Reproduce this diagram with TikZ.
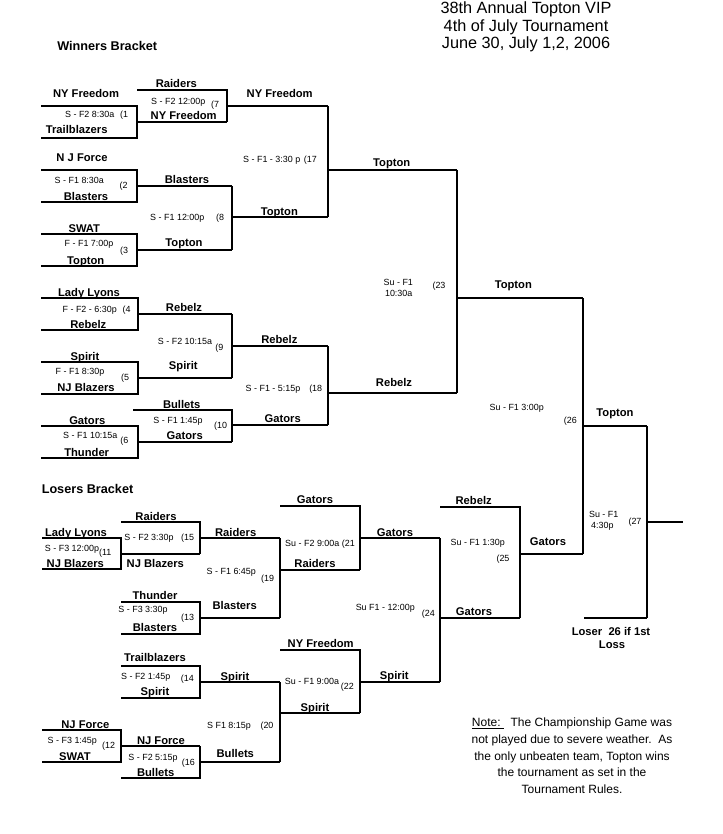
\documentclass[tikz,border=0pt]{standalone}
\usepackage{fontspec}
\setmainfont{Liberation Sans}
\newcommand\tmfont{\bfseries\fontsize{8.4}{10}\selectfont}
\newcommand\scfont{\fontsize{6.7}{8}\selectfont}
\newcommand\hdfont{\bfseries\fontsize{9.5}{11}\selectfont}
\newcommand\ttlfont{\fontsize{12.2}{14}\selectfont}
\newcommand\ntfont{\fontsize{9}{11}\selectfont}
\begin{document}
\begin{tikzpicture}[x=0.75pt,y=-0.75pt,
  tm/.style={font=\tmfont,anchor=base,inner sep=0pt},
  sc/.style={font=\scfont,anchor=base,inner sep=0pt},
  hd/.style={font=\hdfont,anchor=base west,inner sep=0pt},
  ttl/.style={font=\ttlfont,anchor=base,inner sep=0pt},
  nt/.style={font=\ntfont,anchor=base,inner sep=0pt},
  br/.style={draw=black,line width=0.8pt}]
\useasboundingbox[fill=white] (0,0) rectangle (722,834);

% ---- title ----
\node[ttl] (title1) at (526,14) {38th Annual Topton VIP};
\node[ttl] (title2) at (526,31.5) {4th of July Tournament};
\node[ttl] (title3) at (526,48.5) {June 30, July 1,2, 2006};
\node[hd] (wb) at (57,50.5) {Winners Bracket};
\node[hd] (lb) at (41.5,493.5) {Losers Bracket};

% ---- winners bracket lines ----
\draw[br] (41,106)--(137,106)--(137,138)--(41,138);
\draw[br] (137,122)--(227,122);
\draw[br] (137,90)--(227,90)--(227,122);
\draw[br] (227,106)--(328,106);
\draw[br] (41,170)--(137,170)--(137,202)--(41,202);
\draw[br] (137,186)--(232,186);
\draw[br] (41,234)--(137,234)--(137,266)--(41,266);
\draw[br] (137,250)--(232,250);
\draw[br] (232,186)--(232,250);
\draw[br] (232,217)--(328,217);
\draw[br] (328,106)--(328,217);
\draw[br] (328,170)--(457,170);
\draw[br] (41,298)--(138,298)--(138,330)--(41,330);
\draw[br] (138,314)--(232,314);
\draw[br] (41,362)--(138,362)--(138,394)--(41,394);
\draw[br] (138,378)--(232,378);
\draw[br] (232,314)--(232,378);
\draw[br] (232,346)--(328,346);
\draw[br] (41,426)--(138,426)--(138,458)--(41,458);
\draw[br] (138,442)--(232,442);
\draw[br] (133,410)--(232,410)--(232,442);
\draw[br] (232,425)--(328,425);
\draw[br] (328,346)--(328,425);
\draw[br] (328,393)--(457,393);
\draw[br] (457,170)--(457,393);
\draw[br] (457,298)--(583,298);
\draw[br] (583,298)--(583,554);
\draw[br] (583,426)--(647,426);
\draw[br] (647,426)--(647,618);
\draw[br] (647,522)--(683,522);
\draw[br] (584,618)--(647,618);

% ---- losers bracket lines ----
\draw[br] (42,538)--(121,538)--(121,569)--(42,569);
\draw[br] (121,554)--(200,554);
\draw[br] (121,522)--(200,522)--(200,554);
\draw[br] (200,538)--(280,538);
\draw[br] (121,602)--(200,602)--(200,634)--(121,634);
\draw[br] (200,618)--(280,618);
\draw[br] (280,538)--(280,618);
\draw[br] (280,570)--(360,570);
\draw[br] (280,506)--(360,506)--(360,570);
\draw[br] (360,538)--(440,538);
\draw[br] (121,666)--(200,666)--(200,698)--(121,698);
\draw[br] (200,682)--(280,682);
\draw[br] (42,730)--(121,730)--(121,762)--(42,762);
\draw[br] (121,746)--(200,746);
\draw[br] (200,746)--(200,778)--(121,778);
\draw[br] (200,762)--(280,762);
\draw[br] (280,682)--(280,762);
\draw[br] (280,713)--(360,713);
\draw[br] (280,650)--(360,650)--(360,713);
\draw[br] (360,682)--(440,682);
\draw[br] (440,538)--(440,682);
\draw[br] (440,618)--(520,618);
\draw[br] (440,507)--(520,507)--(520,618);
\draw[br] (520,554)--(583,554);

% ---- winners bracket text ----
\node[tm] (a1) at (86,98) {NY Freedom};
\node[sc] (a2) at (89.7,117.7) {S - F2 8:30a};
\node[sc] (a3) at (124,117.7) {(1};
\node[tm] (a4) at (76.7,134) {Trailblazers};
\node[tm] (a5) at (176.3,87.3) {Raiders};
\node[sc] (a6) at (178.3,105) {S - F2 12:00p};
\node[sc] (a7) at (215,107.7) {(7};
\node[tm] (a8) at (183.7,120) {NY Freedom};
\node[tm] (a9) at (279.7,98) {NY Freedom};
\node[sc] (a10) at (271.7,162.7) {S - F1 - 3:30 p};
\node[sc] (a11) at (310.3,162.7) {(17};
\node[tm] (a12) at (82,162) {N J Force};
\node[sc] (a13) at (79.3,183.3) {S - F1 8:30a};
\node[sc] (a14) at (123.7,188.3) {(2};
\node[tm] (a15) at (86,200.7) {Blasters};
\node[tm] (a16) at (187,183.3) {Blasters};
\node[sc] (a17) at (177.3,220.7) {S - F1 12:00p};
\node[sc] (a18) at (220,220.7) {(8};
\node[tm] (a19) at (279.3,215.5) {Topton};
\node[tm] (a20) at (84.3,232.7) {SWAT};
\node[sc] (a21) at (89,246.7) {F - F1 7:00p};
\node[sc] (a22) at (124,253.3) {(3};
\node[tm] (a23) at (85.7,264.3) {Topton};
\node[tm] (a24) at (184,246.7) {Topton};
\node[tm] (a25) at (89,296.7) {Lady Lyons};
\node[sc] (a26) at (89.7,312.7) {F - F2 - 6:30p};
\node[sc] (a27) at (126.7,312.7) {(4};
\node[tm] (a28) at (88.3,328.3) {Rebelz};
\node[tm] (a29) at (184,311.7) {Rebelz};
\node[sc] (a30) at (185,344) {S - F2 10:15a};
\node[sc] (a31) at (219.3,350) {(9};
\node[tm] (a32) at (279.3,343.3) {Rebelz};
\node[tm] (a33) at (85,360) {Spirit};
\node[sc] (a34) at (80,374) {F - F1 8:30p};
\node[sc] (a35) at (125,380) {(5};
\node[tm] (a36) at (86,391.7) {NJ Blazers};
\node[tm] (a37) at (183.3,369.3) {Spirit};
\node[sc] (a38) at (273,391.7) {S - F1 - 5:15p};
\node[sc] (a39) at (315.7,391.7) {(18};
\node[tm] (a40) at (181.7,408.3) {Bullets};
\node[sc] (a41) at (178,423.3) {S - F1 1:45p};
\node[sc] (a42) at (220.7,428.3) {(10};
\node[tm] (a43) at (87.3,424) {Gators};
\node[tm] (a44) at (184.7,439.3) {Gators};
\node[tm] (a45) at (282.7,422.7) {Gators};
\node[sc] (a46) at (90.3,438.3) {S - F1 10:15a};
\node[sc] (a47) at (124.3,443.3) {(6};
\node[tm] (a48) at (86.7,456) {Thunder};
\node[tm] (a49) at (391.7,166.7) {Topton};
\node[sc] (a50) at (398.3,285) {Su - F1};
\node[sc] (a51) at (398.7,296) {10:30a};
\node[sc] (a52) at (439,288.3) {(23};
\node[tm] (a53) at (394,386) {Rebelz};
\node[tm] (a54) at (513.3,288.3) {Topton};
\node[sc] (a55) at (516.7,410) {Su - F1 3:00p};
\node[sc] (a56) at (570.3,423.3) {(26};
\node[tm] (a57) at (615,416) {Topton};
\node[sc] (a58) at (603.7,517.3) {Su - F1};
\node[sc] (a59) at (602.3,528.8) {4:30p};
\node[sc] (a60) at (635,524) {(27};
\node[tm] (a61) at (548,545.7) {Gators};
\node[tm] (a62) at (611,635) {Loser\ \ 26 if 1st};
\node[tm] (a63) at (612,648.3) {Loss};

% ---- losers bracket text ----
\node[tm] (b1) at (156,520) {Raiders};
\node[tm] (b2) at (76,536) {Lady Lyons};
\node[sc] (b3) at (72,551.7) {S - F3 12:00p};
\node[sc] (b4) at (105.3,555) {(11};
\node[tm] (b5) at (75.3,567.3) {NJ Blazers};
\node[sc] (b6) at (149,540) {S - F2 3:30p};
\node[sc] (b7) at (187.7,540) {(15};
\node[tm] (b8) at (155.3,567.3) {NJ Blazers};
\node[tm] (b9) at (235.7,536) {Raiders};
\node[tm] (b10) at (315,503.3) {Gators};
\node[sc] (b11) at (312.3,546) {Su - F2 9:00a};
\node[sc] (b12) at (348.3,546) {(21};
\node[tm] (b13) at (315,567.3) {Raiders};
\node[sc] (b14) at (231.3,574.3) {S - F1 6:45p};
\node[sc] (b15) at (267.7,581.7) {(19};
\node[tm] (b16) at (155,599.3) {Thunder};
\node[sc] (b17) at (143,612.7) {S - F3 3:30p};
\node[sc] (b18) at (187.7,620) {(13};
\node[tm] (b19) at (234.7,609.3) {Blasters};
\node[tm] (b20) at (155,631.5) {Blasters};
\node[tm] (b21) at (395,536) {Gators};
\node[tm] (b22) at (473.7,504) {Rebelz};
\node[sc] (b23) at (477.7,545) {Su - F1 1:30p};
\node[sc] (b24) at (503,561) {(25};
\node[sc] (b25) at (385.3,610) {Su F1 - 12:00p};
\node[sc] (b26) at (428.3,616) {(24};
\node[tm] (b27) at (474,615) {Gators};
\node[tm] (b28) at (320.7,647.3) {NY Freedom};
\node[tm] (b29) at (155,661.7) {Trailblazers};
\node[sc] (b30) at (145.7,679) {S - F2 1:45p};
\node[sc] (b31) at (187.3,681.7) {(14};
\node[tm] (b32) at (155,695) {Spirit};
\node[tm] (b33) at (235,680) {Spirit};
\node[sc] (b34) at (312,684) {Su - F1 9:00a};
\node[sc] (b35) at (347.3,689.3) {(22};
\node[tm] (b36) at (394.3,679.3) {Spirit};
\node[tm] (b37) at (315,711.7) {Spirit};
\node[sc] (b38) at (229,728.3) {S F1 8:15p};
\node[sc] (b39) at (267,728.3) {(20};
\node[tm] (b40) at (85.3,728.3) {NJ Force};
\node[sc] (b41) at (72.3,743.3) {S - F3 1:45p};
\node[sc] (b42) at (108.7,748.3) {(12};
\node[tm] (b43) at (75,760) {SWAT};
\node[tm] (b44) at (161,744) {NJ Force};
\node[sc] (b45) at (153,760) {S - F2 5:15p};
\node[sc] (b46) at (188.3,765) {(16};
\node[tm] (b47) at (155.7,776) {Bullets};
\node[tm] (b48) at (235.3,757.7) {Bullets};

% ---- note ----
\node[nt] (n1) at (572,726.7) {\underline{Note:\ }\ \ The Championship Game was};
\node[nt] (n2) at (572,743.3) {not played due to severe weather.\ \ As};
\node[nt] (n3) at (572,760) {the only unbeaten team, Topton wins};
\node[nt] (n4) at (572,776.7) {the tournament as set in the};
\node[nt] (n5) at (572,793.3) {Tournament Rules.};
\end{tikzpicture}
\end{document}
